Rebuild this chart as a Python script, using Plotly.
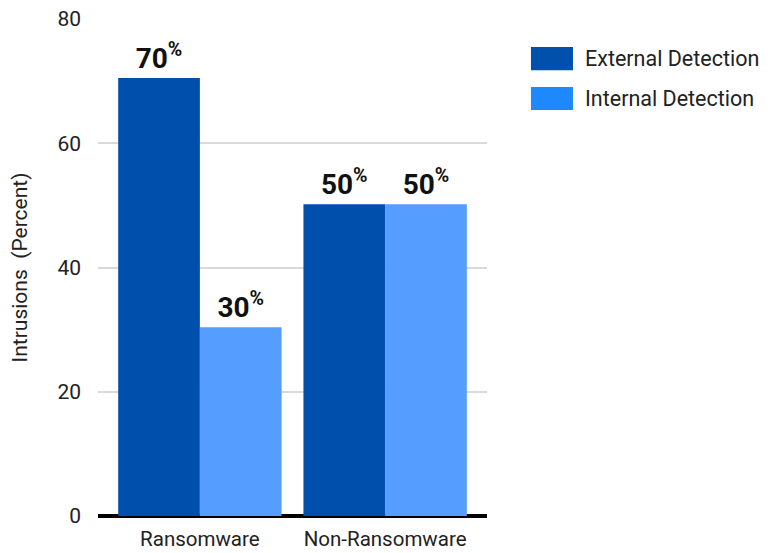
import plotly.graph_objects as go

categories = ["Ransomware", "Non-Ransomware"]
external_values = [70.5, 50.2]
internal_values = [30.4, 50.2]
external_labels = ["70", "50"]
internal_labels = ["30", "50"]
series_names = ["External Detection", "Internal Detection"]
y_ticks = [0, 20, 40, 60, 80]

bar_colors = ["#004FAC", "#559DFF"]
legend_colors = ["#0050AC", "#1E88FF"]
FONT = "Roboto, 'Open Sans', sans-serif"

fig = go.Figure()
for name, vals, labs, col in [
    (series_names[0], external_values, external_labels, bar_colors[0]),
    (series_names[1], internal_values, internal_labels, bar_colors[1]),
]:
    fig.add_trace(go.Bar(
        x=categories, y=vals, name=name, marker=dict(color=col, line=dict(width=0)),
        text=[f"<b>{l}<sup>%</sup></b>" for l in labs],
        textposition="outside", textfont=dict(size=28, color="#111111", family=FONT),
        cliponaxis=False, showlegend=False,
    ))

# custom legend (large swatches)
leg_y = [(0.9437, 0.897), (0.863, 0.817)]
for i, name in enumerate(series_names):
    y0, y1 = leg_y[i][1], leg_y[i][0]
    fig.add_shape(type="rect", xref="paper", yref="paper", x0=1.113, x1=1.221, y0=y0, y1=y1,
                  fillcolor=legend_colors[i], line=dict(width=0))
    fig.add_annotation(xref="paper", yref="paper", x=1.247, y=(y0 + y1) / 2, text=name,
                       showarrow=False, xanchor="left", yanchor="middle",
                       font=dict(size=21.5, color="#222222", family=FONT))

fig.update_layout(
    width=768, height=553,
    margin=dict(l=98, r=281, t=19, b=37),
    paper_bgcolor="white", plot_bgcolor="white",
    barmode="group", bargap=0.118, bargroupgap=0,
    font=dict(family=FONT, size=21, color="#222222"),
)
fig.update_xaxes(
    range=[-0.55, 1.55], showgrid=False, showline=False, zeroline=False,
    tickfont=dict(size=20.5, color="#222222"), ticks="", ticklabelstandoff=8,
    automargin=False,
)
fig.update_yaxes(
    range=[0, 80], tickvals=y_ticks, showgrid=True, gridcolor="#D9D9D9", gridwidth=1.5,
    zeroline=True, zerolinecolor="#000000", zerolinewidth=4, showline=False,
    ticks="", ticklabelstandoff=16,
    tickfont=dict(size=21, color="#222222"),
    title=dict(text="Intrusions\u00a0\u00a0(Percent)", font=dict(size=21, color="#222222"), standoff=24),
    automargin=False,
)

fig.write_html("out.html", config={"displayModeBar": False},
               post_script="document.body.style.margin='0';document.body.style.padding='0';")
